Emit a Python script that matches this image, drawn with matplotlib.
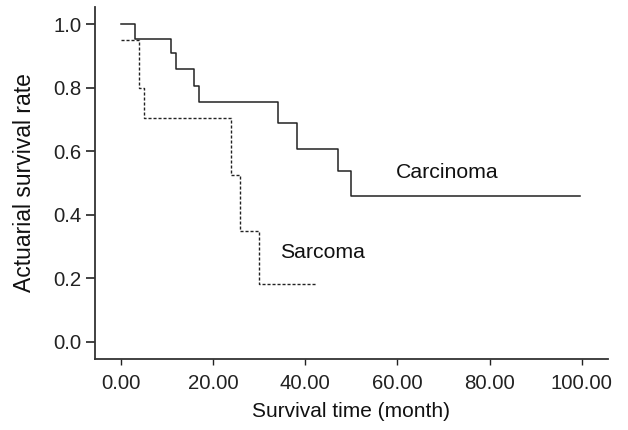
import matplotlib
matplotlib.use("Agg")
import matplotlib.pyplot as plt

# Kaplan-Meier style step data
carc_t = [0, 3.0, 10.9, 11.9, 15.9, 16.9, 34.0, 38.1, 47.0, 49.9, 99.6]
carc_s = [1.0, 0.953, 0.908, 0.859, 0.806, 0.754, 0.687, 0.607, 0.538, 0.459, 0.459]

sarc_t = [0, 3.9, 4.9, 23.9, 25.8, 29.9, 42.5]
sarc_s = [0.95, 0.80, 0.703, 0.526, 0.35, 0.182, 0.182]

x_ticks = [0, 20, 40, 60, 80, 100]
y_ticks = [0.0, 0.2, 0.4, 0.6, 0.8, 1.0]

plt.rcParams["font.family"] = ["Liberation Sans", "DejaVu Sans"]

fig = plt.figure(figsize=(6.28, 4.30), dpi=100, facecolor="white")
ax = fig.add_axes([0.1513, 0.1651, 0.968 - 0.1513, 0.9837 - 0.1651])

ax.step(carc_t, carc_s, where="post", color="#222222", linewidth=1.1)
ax.step(sarc_t, sarc_s, where="post", color="#222222", linewidth=1.0,
        linestyle=(0, (2.2, 1.4)))

ax.text(59.7, 0.534, "Carcinoma", fontsize=15.3, va="center", ha="left", color="#111111")
ax.text(34.5, 0.282, "Sarcoma", fontsize=15.3, va="center", ha="left", color="#111111")

ax.set_xlim(-5.64, 105.7)
ax.set_ylim(-0.0545, 1.0535)
ax.set_xticks(x_ticks)
ax.set_xticklabels([f"{v:.2f}" for v in x_ticks])
ax.set_yticks(y_ticks)
ax.set_yticklabels([f"{v:.1f}" for v in y_ticks])

ax.tick_params(axis="x", length=4.5, width=1.0, labelsize=14.7, pad=6, colors="#222222")
ax.tick_params(axis="y", length=6.5, width=1.2, labelsize=14.7, pad=3, colors="#222222")

ax.set_xlabel("Survival time (month)", fontsize=15, labelpad=7, color="#111111")
ax.set_ylabel("Actuarial survival rate", fontsize=16.5, labelpad=13, color="#111111")

for side in ["top", "right"]:
    ax.spines[side].set_visible(False)
for side in ["left", "bottom"]:
    ax.spines[side].set_linewidth(1.3)
    ax.spines[side].set_color("#333333")

plt.savefig("out.png", dpi=100, facecolor="white")
